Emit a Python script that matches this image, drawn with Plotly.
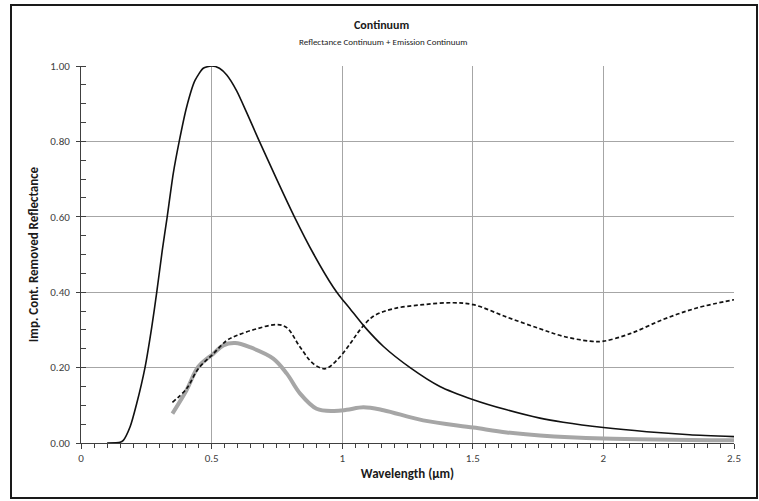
import plotly.graph_objects as go

# Normalised solar (blackbody) reflectance continuum
planck_x = [0.10, 0.15, 0.162, 0.188, 0.213, 0.245, 0.271, 0.290, 0.311, 0.330,
            0.353, 0.376, 0.404, 0.436, 0.468, 0.50, 0.53, 0.558, 0.596, 0.634,
            0.683, 0.749, 0.817, 0.890, 0.966, 0.990, 1.030, 1.081, 1.158, 1.26,
            1.374, 1.502, 1.63, 1.757, 1.846, 2.0, 2.166, 2.33, 2.5]
planck_y = [0.000, 0.002, 0.007, 0.043, 0.104, 0.200, 0.308, 0.400, 0.510, 0.600,
            0.714, 0.800, 0.890, 0.961, 0.994, 1.000, 0.994, 0.976, 0.934, 0.877,
            0.800, 0.700, 0.600, 0.502, 0.413, 0.390, 0.356, 0.312, 0.256, 0.200,
            0.150, 0.115, 0.088, 0.066, 0.055, 0.041, 0.030, 0.022, 0.017]

# Reflectance continuum + emission continuum (dashed)
combined_x = [0.35, 0.404, 0.449, 0.507, 0.558, 0.596, 0.673, 0.749, 0.788, 0.839,
              0.890, 0.935, 0.979, 1.030, 1.068, 1.119, 1.195, 1.31, 1.425, 1.502,
              1.63, 1.757, 1.846, 1.949, 2.0, 2.102, 2.23, 2.357, 2.5]
combined_y = [0.108, 0.144, 0.197, 0.237, 0.272, 0.285, 0.303, 0.314, 0.306, 0.254,
              0.210, 0.197, 0.219, 0.263, 0.300, 0.336, 0.356, 0.367, 0.372, 0.367,
              0.334, 0.303, 0.283, 0.270, 0.270, 0.290, 0.328, 0.358, 0.380]

# Improved continuum-removed reflectance (thick grey)
removed_x = [0.35, 0.404, 0.449, 0.507, 0.545, 0.590, 0.647, 0.736, 0.788, 0.839,
             0.902, 0.966, 1.017, 1.081, 1.158, 1.31, 1.502, 1.63, 1.757, 2.0, 2.5]
removed_y = [0.078, 0.140, 0.202, 0.237, 0.259, 0.265, 0.254, 0.224, 0.184, 0.131,
             0.091, 0.085, 0.088, 0.095, 0.087, 0.060, 0.041, 0.028, 0.020, 0.012, 0.007]

x_ticks = [0, 0.5, 1, 1.5, 2, 2.5]
x_tick_labels = ["0", "0.5", "1", "1.5", "2", "2.5"]
y_ticks = [0, 0.2, 0.4, 0.6, 0.8, 1.0]
y_tick_labels = ["0.00", "0.20", "0.40", "0.60", "0.80", "1.00"]

FONT = "Carlito, Calibri, Lato, sans-serif"

fig = go.Figure()
fig.add_trace(go.Scatter(x=removed_x, y=removed_y, mode="lines",
                         line=dict(color="#a6a6a6", width=4, shape="spline", smoothing=1.0),
                         hoverinfo="skip"))
fig.add_trace(go.Scatter(x=combined_x, y=combined_y, mode="lines",
                         line=dict(color="#111111", width=1.7, dash="4px,2.5px",
                                   shape="spline", smoothing=1.0),
                         hoverinfo="skip"))
fig.add_trace(go.Scatter(x=planck_x, y=planck_y, mode="lines",
                         line=dict(color="#111111", width=1.6, shape="spline", smoothing=0.6),
                         cliponaxis=False, hoverinfo="skip"))

fig.update_layout(
    width=759, height=501,
    margin=dict(l=81, r=25, t=66, b=58),
    paper_bgcolor="white", plot_bgcolor="white",
    showlegend=False,
    font=dict(family=FONT, size=11, color="#404040"),
    annotations=[
        dict(text="<b>Continuum</b>", xref="paper", yref="paper",
             x=(381 - 81) / 653, y=(443 - 25) / 377, xanchor="center", yanchor="middle",
             showarrow=False, font=dict(family=FONT, size=12, color="#1a1a1a")),
        dict(text="Reflectance Continuum + Emission Continuum", xref="paper", yref="paper",
             x=(383 - 81) / 653, y=(443 - 41) / 377, xanchor="center", yanchor="middle",
             showarrow=False, font=dict(family=FONT, size=9, color="#1a1a1a")),
    ],
    shapes=[
        dict(type="rect", xref="paper", yref="paper",
             x0=(11 - 81) / 653, x1=(757 - 81) / 653,
             y0=(443 - 498) / 377, y1=(443 - 5) / 377,
             line=dict(color="#1a1a1a", width=2), fillcolor="rgba(0,0,0,0)", layer="below"),
    ],
)

fig.update_xaxes(
    range=[0, 2.5], tickvals=x_ticks, ticktext=x_tick_labels,
    showgrid=True, gridcolor="#a6a6a6", gridwidth=1,
    showline=True, linecolor="#404040", linewidth=1,
    ticks="outside", ticklen=5, tickcolor="#404040",
    minor=dict(dtick=0.05, ticks="outside", ticklen=4, tickcolor="#404040", showgrid=False),
    zeroline=False,
    title=dict(text="<b>Wavelength (µm)</b>", font=dict(family=FONT, size=13, color="#1a1a1a"),
               standoff=4),
    tickfont=dict(family=FONT, size=11, color="#404040"),
)
fig.update_yaxes(
    range=[0, 1.0], tickvals=y_ticks, ticktext=y_tick_labels,
    showgrid=True, gridcolor="#a6a6a6", gridwidth=1,
    showline=True, linecolor="#404040", linewidth=1,
    ticks="outside", ticklen=4, tickcolor="#404040",
    ticklabelstandoff=4,
    minor=dict(dtick=0.05, ticks="inside", ticklen=5, tickcolor="#404040", showgrid=False),
    zeroline=False,
    title=dict(text="<b>Imp. Cont. Removed Reflectance</b>",
               font=dict(family=FONT, size=13, color="#1a1a1a"), standoff=8),
    tickfont=dict(family=FONT, size=11, color="#404040"),
)

fig.write_html("out.html")
